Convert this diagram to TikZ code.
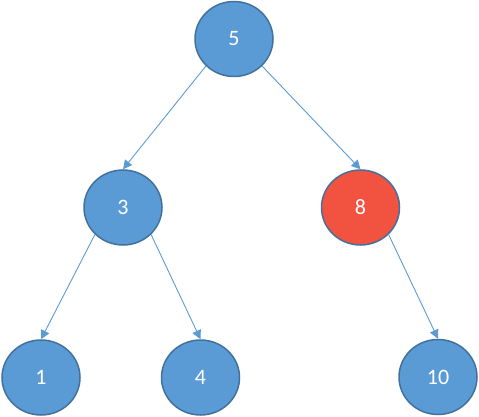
\documentclass[tikz,border=0pt]{standalone}
\usepackage{fontspec}
\setmainfont{Carlito}
\usepackage{tikz}
\usetikzlibrary{shapes.geometric,arrows.meta}
\definecolor{nodeblue}{HTML}{5B9BD5}
\definecolor{nodeline}{HTML}{41719C}
\definecolor{nodered}{HTML}{F25240}
\tikzset{
	key/.style={ellipse, draw=nodeline, line width=1.5pt, fill=nodeblue, text=white,
		minimum width=78pt, minimum height=75pt, inner sep=0pt, font=\fontsize{22}{26}\selectfont},
	redkey/.style={key, fill=nodered},
	link/.style={nodeblue, line width=0.9pt, -{Triangle[length=9pt,width=9pt]}}
}
\begin{document}
\begin{tikzpicture}[x=1pt, y=-1pt]
	\useasboundingbox (0,0) rectangle (479,417);
	
	\node[key] (n5) at (234,39) {5};
	\node[key] (n3) at (123,207.5) {3};
	\node[redkey] (n8) at (360.5,207.5) {8};
	\node[key] (n1) at (41,377.5) {1};
	\node[key] (n4) at (200.5,377.5) {4};
	\node[key] (n10) at (438,377) {10};
	
	\draw[link] (n5.south west) -- (n3.north);
	\draw[link] (n5.south east) -- (n8.north);
	\draw[link] (n3.south west) -- (n1.north);
	\draw[link] (n3.south east) -- (n4.north);
	\draw[link] (n8.south east) -- (n10.north);
\end{tikzpicture}
\end{document}
